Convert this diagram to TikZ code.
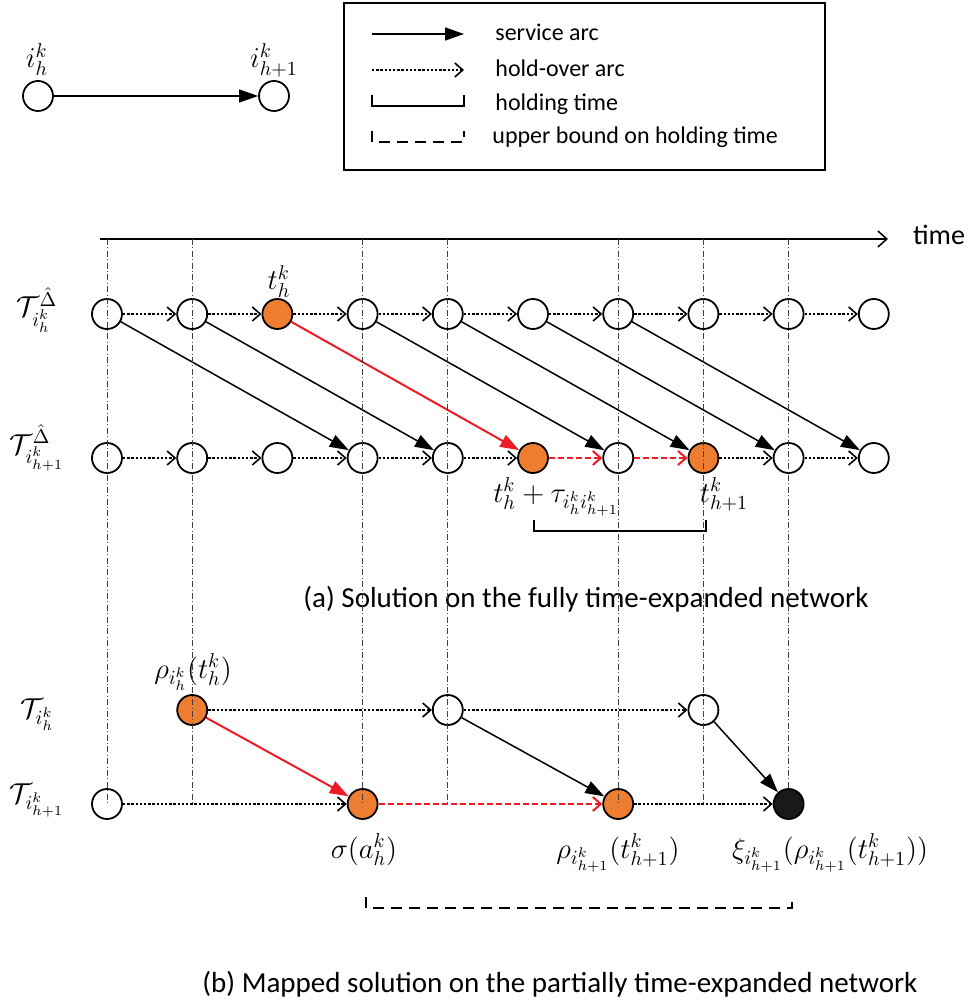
\documentclass[tikz,border=0pt]{standalone}
\usepackage{fontspec}
\setmainfont{Carlito}
\usepackage{tikz}
\usetikzlibrary{arrows.meta}
\definecolor{chosen}{RGB}{237,125,49}
\definecolor{route}{RGB}{237,28,36}
\tikzstyle{vertex}=[circle,draw,line width=0.9pt,minimum size=15pt,inner sep=0pt,fill=white]
\tikzstyle{vertex_chosen}=[vertex,fill=chosen]
\tikzstyle{vertex_end}=[vertex,fill=black!90]
\tikzstyle{service}=[line width=0.75pt,-{Triangle[length=9.5pt,width=6.5pt]}]
\tikzstyle{service_chosen}=[service,route,line width=1pt]
\tikzstyle{holdover}=[line width=0.8pt,dash pattern=on 1.2pt off 0.9pt,-{Straight Barb[length=4pt,width=7pt]}]
\tikzstyle{holdover_chosen}=[holdover,route,line width=1pt,dash pattern=on 3pt off 1.5pt]
\tikzstyle{tickline}=[line width=0.45pt,black!75,dash pattern=on 3pt off 1.2pt on 0.5pt off 1.2pt]
\tikzstyle{holding}=[line width=0.75pt]
\tikzstyle{holding_bound}=[line width=0.75pt,dash pattern=on 5.5pt off 3.5pt]
\tikzstyle{keytext}=[anchor=base west,font=\fontsize{12}{14}\selectfont,inner sep=0pt]
\tikzstyle{panel_title}=[anchor=base,font=\fontsize{14.5}{17}\selectfont,inner sep=0pt]
\tikzstyle{mathlabel}=[anchor=base,font=\fontsize{14}{17}\selectfont,inner sep=0pt]

\begin{document}
\begin{tikzpicture}[x=0.5pt,y=-0.5pt]
\useasboundingbox (0,0) rectangle (967,1004);

% one arc of the route
\node[vertex] (ih) at (38,96) {};
\node[vertex] (ih1) at (274,96) {};
\node[mathlabel] (ih_lab) at (37,68) {$i_h^k$};
\node[mathlabel] (ih1_lab) at (274,68) {$i_{h+1}^k$};
\draw[service] (ih) -- (ih1);

% legend
\draw[line width=0.75pt] (344,3) rectangle (825,170);
\draw[service] (372,34) -- (464,34);
\node[keytext] (key_service) at (495,41) {service arc};
\draw[holdover] (372,70) -- (464,70);
\node[keytext] (key_hold) at (495,77) {hold-over arc};
\draw[holding] (372,95) -- (372,106) -- (464,106) -- (464,95);
\node[keytext] (key_time) at (495,111) {holding time};
\draw[holding_bound] (372,131) -- (372,142) -- (464,142) -- (464,131);
\node[keytext] (key_bound) at (492,144) {upper bound on holding time};

% time axis
\coordinate (t_start) at (100,239);
\coordinate (t_end) at (888,239);
\draw[line width=0.75pt,-{Straight Barb[length=4.5pt,width=8pt]}] (t_start) -- (t_end);
\node[panel_title,font=\fontsize{14}{17}\selectfont] (time) at (939,245) {time};

% (a) fully time-expanded network
\foreach \i/\s in {0/vertex,1/vertex,2/vertex_chosen,3/vertex,4/vertex,5/vertex,6/vertex,7/vertex,8/vertex,9/vertex}
  \node[\s] (a\i) at (107+85.2*\i,314) {};
\foreach \i/\s in {0/vertex,1/vertex,2/vertex,3/vertex,4/vertex,5/vertex_chosen,6/vertex,7/vertex_chosen,8/vertex,9/vertex}
  \node[\s] (b\i) at (107+85.2*\i,458) {};

\foreach \i/\j in {0/1,1/2,2/3,3/4,4/5,5/6,6/7,7/8,8/9}
  \draw[holdover] (a\i) -- (a\j);
\foreach \i/\j in {0/1,1/2,2/3,3/4,4/5,7/8,8/9}
  \draw[holdover] (b\i) -- (b\j);
\draw[holdover_chosen] (b5) -- (b6);
\draw[holdover_chosen] (b6) -- (b7);

\foreach \i/\j in {0/3,1/4,3/6,4/7,5/8,6/9}
  \draw[service] (a\i) -- (b\j);
\draw[service_chosen] (a2) -- (b5);

\node[mathlabel] (row_a1) at (37,317) {$\mathcal{T}_{i_h^k}^{\hat{\Delta}}$};
\node[mathlabel] (row_a2) at (37,454) {$\mathcal{T}_{i_{h+1}^k}^{\hat{\Delta}}$};
\node[mathlabel] (lab_t) at (279,290) {$t_h^k$};
\node[mathlabel] (lab_arr) at (556,502) {$t_h^k+\tau_{i_h^k i_{h+1}^k}$};
\node[mathlabel] (lab_t1) at (724,502) {$t_{h+1}^k$};
\draw[holding] (534,520) -- (534,531) -- (706,531) -- (706,520);
\node[panel_title] (cap_a) at (586,607) {(a) Solution on the fully time-expanded network};

% (b) partially time-expanded network
\node[vertex_chosen] (p1) at (192.2,710) {};
\node[vertex] (p4) at (447.8,710) {};
\node[vertex] (p7) at (703.4,710) {};
\node[vertex] (q0) at (107,804) {};
\node[vertex_chosen] (q3) at (362.6,804) {};
\node[vertex_chosen] (q6) at (618.2,804) {};
\node[vertex_end] (q8) at (788.6,804) {};

\draw[holdover] (p1) -- (p4);
\draw[holdover] (p4) -- (p7);
\draw[holdover] (q0) -- (q3);
\draw[holdover_chosen] (q3) -- (q6);
\draw[holdover] (q6) -- (q8);
\draw[service_chosen] (p1) -- (q3);
\draw[service] (p4) -- (q6);
\draw[service] (p7) -- (q8);

\node[mathlabel] (row_b1) at (37,718) {$\mathcal{T}_{i_h^k}$};
\node[mathlabel] (row_b2) at (37,803) {$\mathcal{T}_{i_{h+1}^k}$};
\node[mathlabel] (lab_rho) at (193,678) {$\rho_{i_h^k}(t_h^k)$};
\node[mathlabel] (lab_sigma) at (364,858) {$\sigma(a_h^k)$};
\node[mathlabel] (lab_rho1) at (618,858) {$\rho_{i_{h+1}^k}(t_{h+1}^k)$};
\node[mathlabel] (lab_xi) at (830,858) {$\xi_{i_{h+1}^k}(\rho_{i_{h+1}^k}(t_{h+1}^k))$};
\draw[holding_bound] (366,897) -- (366,908) -- (792,908) -- (792,897);
\node[panel_title] (cap_b) at (560,992) {(b) Mapped solution on the partially time-expanded network};

% time steps of the partial network
\foreach \c in {0,1,3,4,6,7}
  \draw[tickline] (107+85.2*\c,239) -- (107+85.2*\c,804);
\draw[tickline] (788.6,239) -- (788.6,789);
\end{tikzpicture}
\end{document}
